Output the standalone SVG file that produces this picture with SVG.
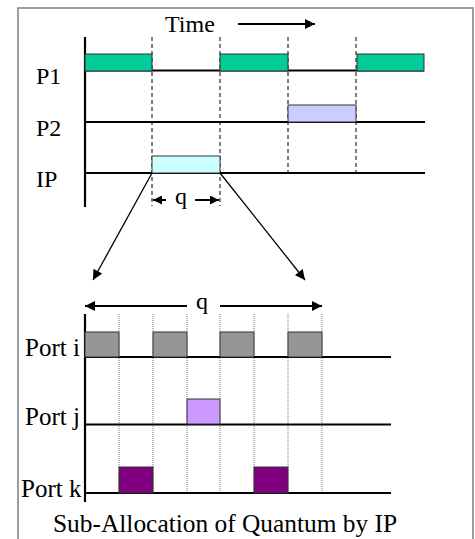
<svg xmlns="http://www.w3.org/2000/svg" width="475" height="539" viewBox="0 0 475 539">
  <style>
    .lbl { font-size: 24px; fill: #000; }
    .port { font-size: 25px; }
    .cap { font-size: 25.4px; }
    .axis { stroke: #000; stroke-width: 2.2; fill: none; }
    .base { stroke: #000; stroke-width: 2; fill: none; }
    .dash { stroke: #000; stroke-width: 1; stroke-dasharray: 4 3; fill: none; }
    .dot { stroke: #777; stroke-width: 1; stroke-dasharray: 1 1; fill: none; }
    .bar { stroke: #333; stroke-width: 1; }
    .arrow { stroke: #000; fill: none; }
  </style>
  <defs>
    <marker id="head" viewBox="0 0 10 10" refX="10" refY="5" markerUnits="userSpaceOnUse" markerWidth="11" markerHeight="10" orient="auto-start-reverse">
      <path d="M0,0 L10,5 L0,10 z" fill="#000"/>
    </marker>
    <marker id="headSmall" viewBox="0 0 10 10" refX="10" refY="5" markerUnits="userSpaceOnUse" markerWidth="9" markerHeight="9" orient="auto-start-reverse">
      <path d="M0,0 L10,5 L0,10 z" fill="#000"/>
    </marker>
  </defs>

  <!-- outer frame (open at the bottom) -->
  <path d="M18,539 V8 H473 V539" fill="none" stroke="#808080" stroke-width="1.5"/>

  <g font-family="'Liberation Serif', 'Times New Roman', 'DejaVu Serif', serif">
  <!-- upper chart: time slices of P1, P2 and IP -->
  <g id="time-label">
    <text class="lbl" x="165" y="32">Time</text>
  </g>
  <g id="upper-axis">
    <line class="axis" x1="85" y1="37" x2="85" y2="207"/>
  </g>
  <g id="upper-guides">
    <line class="dash" x1="152" y1="37" x2="152" y2="206"/>
    <line class="dash" x1="220" y1="37" x2="220" y2="206"/>
    <line class="dash" x1="288" y1="37" x2="288" y2="172"/>
    <line class="dash" x1="356" y1="37" x2="356" y2="172"/>
  </g>
  <g id="row-P1">
    <text class="lbl" x="36" y="84">P1</text>
    <line class="base" x1="85" y1="70.5" x2="424" y2="70.5"/>
    <rect class="bar" x="85" y="54" width="67" height="17" fill="#00CC99"/>
    <rect class="bar" x="220" y="54" width="68" height="17" fill="#00CC99"/>
    <rect class="bar" x="357" y="54" width="67" height="17" fill="#00CC99"/>
  </g>
  <g id="row-P2">
    <text class="lbl" x="36" y="136">P2</text>
    <line class="base" x1="85" y1="122" x2="425" y2="122"/>
    <rect class="bar" x="288" y="105" width="68" height="17" fill="#CCCCFF" stroke="#777"/>
  </g>
  <g id="row-IP">
    <text class="lbl" x="36" y="187">IP</text>
    <line class="base" x1="85" y1="173" x2="425" y2="173"/>
    <rect class="bar" x="152" y="156" width="68" height="17" fill="#CCFFFF" stroke="#777"/>
  </g>
  <g id="quantum-label">
    <text class="lbl" x="175" y="204">q</text>
  </g>

  <!-- lower chart: sub-allocation of the quantum among ports -->
  <g id="lower-q-label">
    <text class="lbl" x="196" y="309">q</text>
  </g>
  <g id="lower-axis">
    <line class="axis" x1="85" y1="314" x2="85" y2="502"/>
  </g>
  <g id="lower-guides">
    <line class="dot" x1="119" y1="314" x2="119" y2="493"/>
    <line class="dot" x1="153" y1="314" x2="153" y2="493"/>
    <line class="dot" x1="187" y1="314" x2="187" y2="493"/>
    <line class="dot" x1="220" y1="314" x2="220" y2="493"/>
    <line class="dot" x1="254" y1="314" x2="254" y2="493"/>
    <line class="dot" x1="288" y1="314" x2="288" y2="493"/>
    <line class="dot" x1="322" y1="314" x2="322" y2="493"/>
  </g>
  <g id="port-i">
    <text class="lbl port" x="25" y="356">Port i</text>
    <line class="base" x1="85" y1="357" x2="391" y2="357"/>
    <rect class="bar" x="85" y="332" width="34" height="25" fill="#969696"/>
    <rect class="bar" x="153" y="332" width="34" height="25" fill="#969696"/>
    <rect class="bar" x="220" y="332" width="34" height="25" fill="#969696"/>
    <rect class="bar" x="288" y="332" width="34" height="25" fill="#969696"/>
  </g>
  <g id="port-j">
    <text class="lbl port" x="25" y="425">Port j</text>
    <line class="base" x1="85" y1="424.5" x2="391" y2="424.5"/>
    <rect class="bar" x="187" y="399" width="33" height="25" fill="#CC99FF"/>
  </g>
  <g id="port-k">
    <text class="lbl port" x="21" y="497">Port k</text>
    <line class="base" x1="85" y1="493" x2="391" y2="493"/>
    <rect class="bar" x="119" y="467" width="34" height="26" fill="#800080"/>
    <rect class="bar" x="254" y="467" width="34" height="26" fill="#800080"/>
  </g>
  <g id="caption">
    <text class="lbl cap" x="53" y="532">Sub-Allocation of Quantum by IP</text>
  </g>
  </g>

  <!-- connectors -->
  <g id="connectors">
    <line class="arrow" x1="238" y1="24" x2="315" y2="24" stroke-width="2" marker-end="url(#head)"/>
    <line class="arrow" x1="166" y1="200" x2="153" y2="200" stroke-width="2" marker-end="url(#headSmall)"/>
    <line class="arrow" x1="195" y1="200" x2="219" y2="200" stroke-width="2" marker-end="url(#headSmall)"/>
    <line class="arrow" x1="152" y1="173" x2="93" y2="280" stroke-width="1.3" marker-end="url(#head)"/>
    <line class="arrow" x1="220" y1="173" x2="305" y2="280" stroke-width="1.3" marker-end="url(#head)"/>
    <line class="arrow" x1="187" y1="306" x2="85" y2="306" stroke-width="2" marker-end="url(#head)"/>
    <line class="arrow" x1="220" y1="306" x2="322" y2="306" stroke-width="2" marker-end="url(#head)"/>
  </g>
</svg>
